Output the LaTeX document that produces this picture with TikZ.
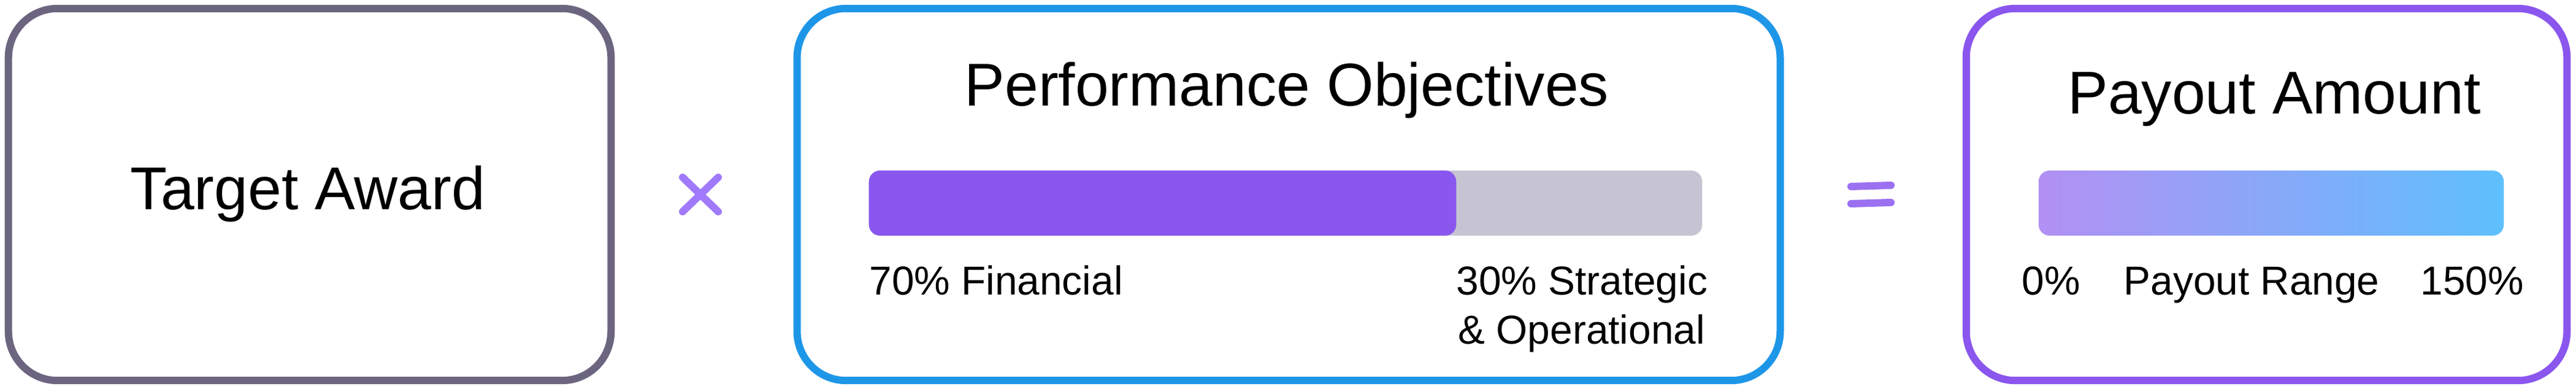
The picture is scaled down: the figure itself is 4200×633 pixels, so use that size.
\documentclass[tikz,border=0pt]{standalone}
\usepackage{fontspec}
\setmainfont{Liberation Sans}
\definecolor{awardgray}{HTML}{6B6580}
\definecolor{objblue}{HTML}{1E96E8}
\definecolor{payviolet}{HTML}{8A56EE}
\definecolor{barviolet}{HTML}{8957EE}
\definecolor{bargray}{HTML}{C6C4D2}
\definecolor{symviolet}{HTML}{A07AFA}
\definecolor{gradstart}{HTML}{B290F3}
\definecolor{gradend}{HTML}{5EC0FD}

\begin{document}
\begin{tikzpicture}[x=0.01cm, y=-0.01cm,
		card/.style={draw, line width=0.12cm, rounded corners=0.8cm, minimum height=6.06cm, inner sep=0pt},
		bar/.style={rounded corners=0.18cm, minimum height=1.06cm, inner sep=0pt},
		title/.style={font=\fontsize{28}{34}\selectfont, anchor=base, inner sep=0pt},
		small/.style={font=\fontsize{18.7}{23}\selectfont, anchor=base west, inner sep=0pt},
		sym/.style={symviolet, line width=0.12cm, line cap=round}]
		\useasboundingbox (0,0) rectangle (4200,633);
		
		\node[card, draw=awardgray, minimum width=9.82cm] (award) at (505,317) {};
		\node[title] (awardtext) at (502,341) {Target Award};
		
		\node[card, draw=objblue, minimum width=16.02cm] (objectives) at (2101,317) {};
		\node[title] (objtitle) at (2098,172) {Performance Objectives};
		\node[bar, fill=bargray, minimum width=13.58cm] (objbar) at (2096,331) {};
		\node[bar, fill=barviolet, minimum width=9.57cm] (finbar) at (1895.5,331) {};
		\node[small] (fin) at (1417,480) {70\% Financial};
		\node[small] (strat) at (2374,480) {30\% Strategic};
		\node[small] (oper) at (2377,560) {\& Operational};
		
		\node[card, draw=payviolet, minimum width=9.79cm] (payout) at (3695.5,317) {};
		\node[title] (paytitle) at (3708,185) {Payout Amount};
		\node[bar, left color=gradstart, right color=gradend, minimum width=7.58cm] (range) at (3703,331) {};
		\node[small] (low) at (3296,480) {0\%};
		\node[small] (mid) at (3462,480) {Payout Range};
		\node[small] (high) at (3946,480) {150\%};
		
		\draw[sym] (1113,289) -- (1171,345);
		\draw[sym] (1171,289) -- (1113,345);
		
		\draw[sym, draw=barviolet!85!white] (3018,304) -- (3083,302);
		\draw[sym, draw=barviolet!85!white] (3018,332) -- (3083,330);
	\end{tikzpicture}
\end{document}
